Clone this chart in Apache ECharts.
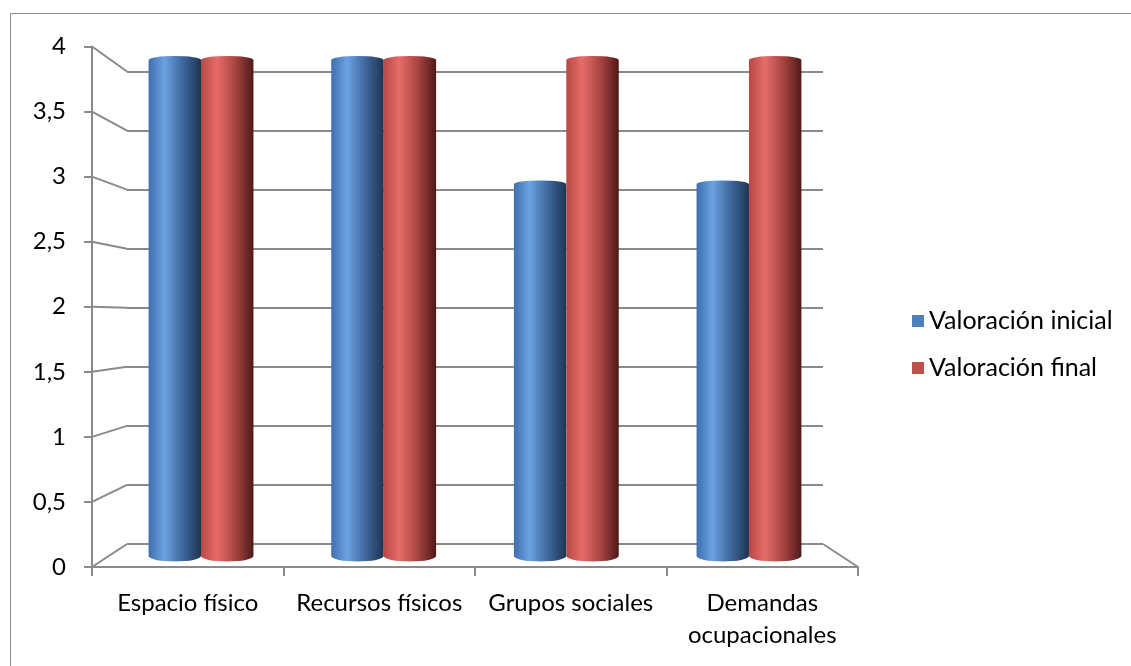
<!DOCTYPE html>
<html>
<head>
<meta charset="utf-8">
<script src="https://cdn.jsdelivr.net/npm/echarts@6/dist/echarts.min.js"></script>
<style>
  html, body { margin: 0; padding: 0; background: #fff; }
  #chart { width: 1131px; height: 666px; }
</style>
</head>
<body>
<div id="chart"></div>
<script>
// Data
const categories = ['Espacio físico', 'Recursos físicos', 'Grupos sociales', 'Demandas\nocupacionales'];
const valoracionInicial = [4, 4, 3, 3];
const valoracionFinal = [4, 4, 4, 4];
const seriesNames = ['Valoración inicial', 'Valoración final'];
const yMin = 0, yMax = 4, yStep = 0.5;

const FONT = 'Lato';
const GRID_COLOR = '#8a8a8a';

// Cylinder colour stops (left edge -> highlight -> shade -> right edge)
const cylStops = [
  [{ offset: 0, color: '#3f6fae' }, { offset: 0.3, color: '#6ca2e2' }, { offset: 0.65, color: '#3f679c' }, { offset: 1, color: '#1e3553' }],
  [{ offset: 0, color: '#b84845' }, { offset: 0.3, color: '#e66c69' }, { offset: 0.65, color: '#a84542' }, { offset: 1, color: '#4f1918' }]
];
const legendColors = ['#4f81bd', '#c0504d'];

const chart = echarts.init(document.getElementById('chart'), null, { renderer: 'canvas' });

// Draws one cylinder: straight sides with an elliptical top and bottom
function cylinder(seriesIdx) {
  return function (params, api) {
    const cat = api.value(0);
    const v = api.value(1);
    const band = api.size([1, 0])[0];
    const w = band * 0.287;
    const c = api.coord([cat, v]);
    const b = api.coord([cat, 0]);
    const x0 = seriesIdx === 0 ? c[0] - w : c[0];
    const x1 = x0 + w;
    const rx = w / 2;
    const ryT = 4, ryB = 5.5;
    const yt = c[1] + 1.5, yb = b[1];
    const d = 'M' + x0 + ' ' + yt + ' L' + x0 + ' ' + yb +
      ' A' + rx + ' ' + ryB + ' 0 0 0 ' + x1 + ' ' + yb +
      ' L' + x1 + ' ' + yt +
      ' A' + rx + ' ' + ryT + ' 0 0 0 ' + x0 + ' ' + yt + ' Z';
    return {
      type: 'path',
      shape: { pathData: d },
      style: { fill: new echarts.graphic.LinearGradient(0, 0, 1, 0, cylStops[seriesIdx]) }
    };
  };
}

const option = {
  animation: false,
  backgroundColor: '#fff',
  textStyle: { fontFamily: FONT },
  legend: {
    orient: 'vertical',
    left: 907,
    top: 303,
    itemWidth: 12,
    itemHeight: 12,
    itemGap: 21,
    icon: 'rect',
    textStyle: { fontFamily: FONT, fontSize: 25, lineHeight: 26, color: '#000' },
    data: seriesNames.map((n, i) => ({ name: n, itemStyle: { color: legendColors[i] } }))
  },
  grid: [
    // front axes
    { left: 92, right: 1131 - 858, top: 46.5, bottom: 666 - 567 },
    // back wall
    { left: 127, right: 1131 - 823, top: 71.5, bottom: 666 - 544 },
    // cylinders (mid depth)
    { left: 109.7, right: 1131 - 840.3, top: 58.5, bottom: 666 - 556 }
  ],
  xAxis: [
    {
      gridIndex: 0, type: 'category', data: categories,
      axisLine: { lineStyle: { color: GRID_COLOR, width: 2 } },
      axisTick: { show: true, length: 9, lineStyle: { color: GRID_COLOR, width: 2 } },
      axisLabel: { fontFamily: FONT, fontSize: 24, color: '#000', margin: 20, lineHeight: 32, interval: 0 },
      splitLine: { show: false }
    },
    { gridIndex: 1, type: 'category', data: categories, show: false },
    { gridIndex: 2, type: 'category', data: categories, show: false }
  ],
  yAxis: [
    {
      gridIndex: 0, type: 'value', min: yMin, max: yMax, interval: yStep,
      axisLine: { show: true, lineStyle: { color: GRID_COLOR, width: 2 } },
      axisTick: { show: true, length: 8, lineStyle: { color: GRID_COLOR, width: 2 } },
      axisLabel: {
        fontFamily: FONT, fontSize: 24, color: '#000', margin: 26,
        formatter: v => String(v).replace('.', ',')
      },
      splitLine: { show: false }
    },
    {
      gridIndex: 1, type: 'value', min: yMin, max: yMax, interval: yStep,
      axisLine: { show: false }, axisTick: { show: false }, axisLabel: { show: false },
      splitLine: { show: true, lineStyle: { color: GRID_COLOR, width: 2 } }
    },
    {
      gridIndex: 2, type: 'value', min: yMin, max: yMax, interval: yStep, show: false,
      splitLine: { show: false }
    }
  ],
  series: [
    {
      name: seriesNames[0], type: 'custom', xAxisIndex: 2, yAxisIndex: 2,
      itemStyle: { color: legendColors[0] },
      renderItem: cylinder(0),
      data: valoracionInicial.map((v, i) => [i, v]),
      z: 5
    },
    {
      name: seriesNames[1], type: 'custom', xAxisIndex: 2, yAxisIndex: 2,
      itemStyle: { color: legendColors[1] },
      renderItem: cylinder(1),
      data: valoracionFinal.map((v, i) => [i, v]),
      z: 5
    }
  ]
};

chart.setOption(option);

// Perspective connectors between the front axis and the back wall, plus the outer frame
const lineStyle = { stroke: GRID_COLOR, lineWidth: 2 };
const graphics = [{
  type: 'rect', left: 8, top: 11, silent: true,
  shape: { width: 1140, height: 680 },
  style: { fill: null, stroke: '#8a8a8a', lineWidth: 1 }
}];
const frontRect = chart.getModel().getComponent('grid', 0).coordinateSystem.getRect();
const backRect = chart.getModel().getComponent('grid', 1).coordinateSystem.getRect();
const nSteps = Math.round((yMax - yMin) / yStep);
for (let k = 0; k <= nSteps; k++) {
  const v = yMin + k * yStep;
  const frontY = chart.convertToPixel({ yAxisIndex: 0 }, v);
  const backY = chart.convertToPixel({ yAxisIndex: 1 }, v);
  graphics.push({
    type: 'line', silent: true,
    shape: { x1: frontRect.x, y1: frontY, x2: backRect.x, y2: backY },
    style: lineStyle
  });
}
// right edge of the floor
graphics.push({
  type: 'line', silent: true,
  shape: {
    x1: backRect.x + backRect.width, y1: backRect.y + backRect.height,
    x2: frontRect.x + frontRect.width, y2: frontRect.y + frontRect.height
  },
  style: lineStyle
});
chart.setOption({ graphic: graphics });
</script>
</body>
</html>
